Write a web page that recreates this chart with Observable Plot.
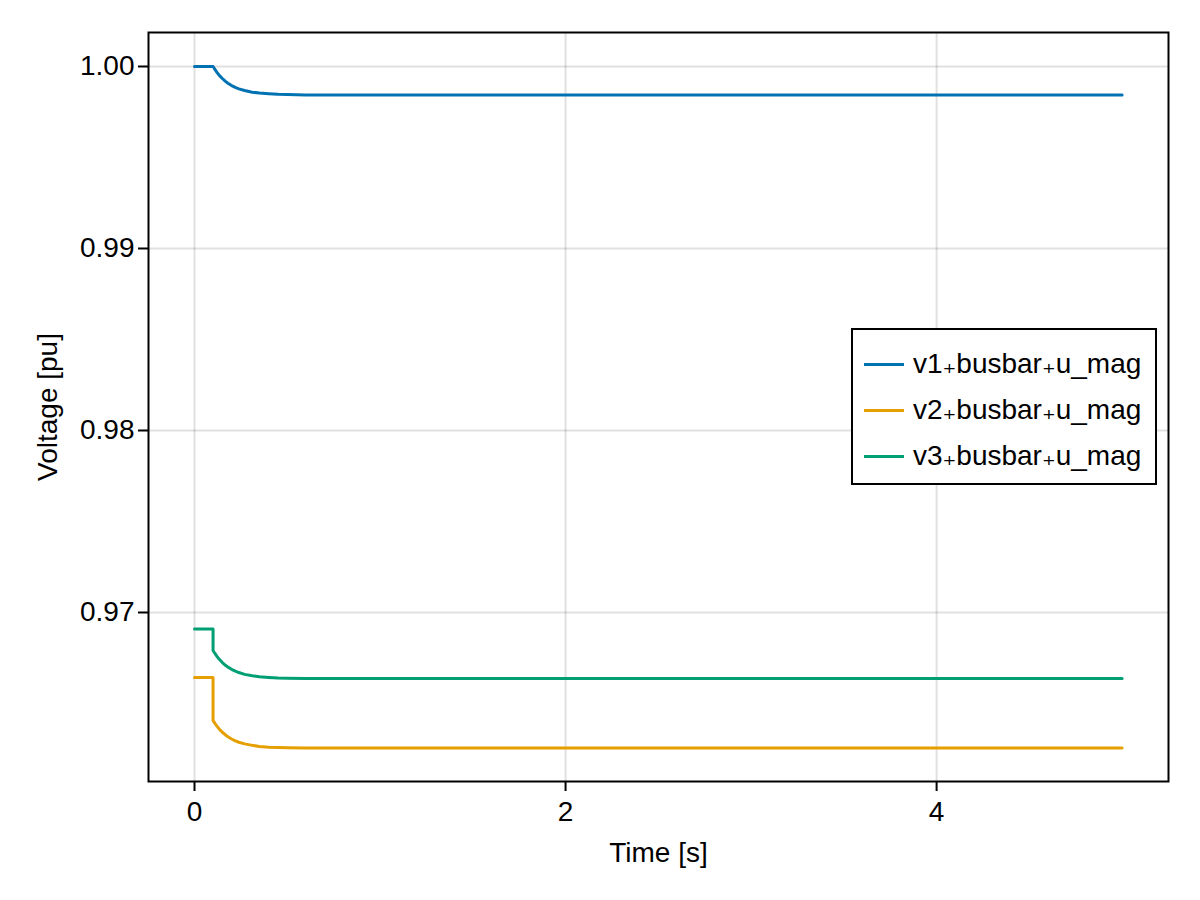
<!DOCTYPE html>
<html>
<head>
<meta charset="utf-8">
<script src="https://cdn.jsdelivr.net/npm/d3@7"></script>
<script src="https://cdn.jsdelivr.net/npm/@observablehq/plot@0.6"></script>
<style>
  html, body { margin: 0; padding: 0; background: white; }
  #wrap { position: relative; width: 1200px; height: 900px; font-family: "Liberation Sans", Arial, sans-serif; }
  #wrap svg text { font-size: 28px; }
  #legend { position: absolute; left: 851px; top: 328px; width: 306px; height: 157px; box-sizing: border-box;
            border: 2px solid black; background: white; padding-top: 11px; }
  .item { height: 46px; display: flex; align-items: center; font-size: 28px; color: black; white-space: nowrap; }
  .swatch { width: 40px; height: 3px; margin-left: 11px; margin-right: 9px; flex: none; }
  .sub { font-family: "DejaVu Sans", sans-serif; font-size: 26px; }
</style>
</head>
<body>
<div id="wrap"></div>
<script>
// Time samples [s]
const time = [0, 0.1, 0.1, 0.11, 0.12, 0.13, 0.14, 0.15, 0.167, 0.18, 0.2, 0.22, 0.239, 0.27, 0.311, 0.35, 0.4, 0.45, 0.5, 0.6, 0.8, 1.0, 2, 3, 4, 5];
// Series values [pu]
const v1 = [1.0, 1.0, 1.0, 0.99984, 0.99969, 0.99956, 0.99944, 0.99934, 0.99918, 0.99908, 0.99895, 0.99885, 0.99877, 0.99868, 0.99859, 0.99854, 0.99850, 0.99847, 0.99846, 0.99844, 0.99844, 0.99844, 0.99844, 0.99844, 0.99844, 0.99844];
const v2 = [0.96643, 0.96643, 0.96407, 0.96391, 0.96377, 0.96364, 0.96352, 0.96342, 0.96327, 0.96317, 0.96305, 0.96295, 0.96287, 0.96278, 0.96270, 0.96264, 0.96260, 0.96258, 0.96257, 0.96256, 0.96255, 0.96255, 0.96256, 0.96255, 0.96256, 0.96255];
const v3 = [0.96910, 0.96910, 0.96791, 0.96775, 0.96760, 0.96747, 0.96736, 0.96725, 0.96710, 0.96700, 0.96688, 0.96678, 0.96670, 0.96660, 0.96652, 0.96647, 0.96643, 0.96640, 0.96639, 0.96638, 0.96637, 0.96637, 0.96637, 0.96638, 0.96637, 0.96637];
const seriesNames = ["v1\u208Abusbar\u208Au_mag", "v2\u208Abusbar\u208Au_mag", "v3\u208Abusbar\u208Au_mag"];
const seriesColors = ["#0072B2", "#E69F00", "#009E73"];
const xTicks = [0, 2, 4];
const yTicks = [0.97, 0.98, 0.99, 1.00];

const seriesValues = [v1, v2, v3];
const data = [];
seriesValues.forEach((vals, i) => {
  vals.forEach((v, j) => data.push({t: time[j], v, series: seriesNames[i]}));
});

const chart = Plot.plot({
  width: 1200,
  height: 900,
  marginLeft: 148,
  marginRight: 32,
  marginTop: 32,
  marginBottom: 119,
  style: {fontFamily: "'Liberation Sans', Arial, sans-serif", fontSize: "28px", background: "white", color: "black"},
  x: {domain: [-0.248, 5.25]},
  y: {domain: [0.960714, 1.001868]},
  color: {domain: seriesNames, range: seriesColors},
  marks: [
    Plot.gridX(xTicks, {stroke: "black", strokeOpacity: 0.12, strokeWidth: 2}),
    Plot.gridY(yTicks, {stroke: "black", strokeOpacity: 0.12, strokeWidth: 2}),
    Plot.line(data, {x: "t", y: "v", z: "series", stroke: "series", strokeWidth: 3}),
    Plot.frame({stroke: "black", strokeWidth: 2}),
    Plot.axisX(xTicks, {tickSize: 10, tickPadding: 10, strokeWidth: 2, fontSize: 28,
      label: "Time [s]", labelAnchor: "center", labelOffset: 80, labelArrow: "none", tickFormat: d3.format("d")}),
    Plot.axisY(yTicks, {tickSize: 10, tickPadding: 4, strokeWidth: 2, fontSize: 28,
      label: "Voltage [pu]", labelAnchor: "center", labelOffset: 111, labelArrow: "none", tickFormat: d3.format(".2f")})
  ]
});
const wrap = document.getElementById("wrap");
wrap.appendChild(chart);

const legend = document.createElement("div");
legend.id = "legend";
seriesNames.forEach((name, i) => {
  const item = document.createElement("div");
  item.className = "item";
  const sw = document.createElement("span");
  sw.className = "swatch";
  sw.style.background = seriesColors[i];
  const lab = document.createElement("span");
  name.split("\u208A").forEach((part, k) => {
    if (k > 0) {
      const s = document.createElement("span");
      s.className = "sub";
      s.textContent = "\u208A";
      lab.appendChild(s);
    }
    lab.appendChild(document.createTextNode(part));
  });
  item.appendChild(sw);
  item.appendChild(lab);
  legend.appendChild(item);
});
wrap.appendChild(legend);
</script>
</body>
</html>
